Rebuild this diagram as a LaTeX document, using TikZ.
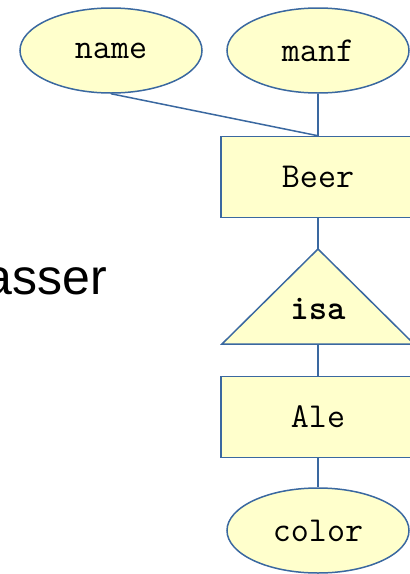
\documentclass[tikz,border=0pt]{standalone}
\usepackage{fontspec}
\setmainfont{Liberation Sans}
\usetikzlibrary{shapes.geometric}
\definecolor{erfill}{HTML}{FFFFCC}
\definecolor{erline}{HTML}{3A68A0}
\tikzset{
  codetext/.style={font=\ttfamily\fontsize{35}{38}\selectfont},
  attr/.style={ellipse, draw=erline, fill=erfill, line width=1.5pt, minimum width=182pt, minimum height=85pt, inner sep=0pt, codetext},
  ent/.style={rectangle, draw=erline, fill=erfill, line width=1.5pt, minimum width=194pt, minimum height=81pt, inner sep=0pt, codetext},
  conn/.style={draw=erline, line width=1.5pt}
}
\begin{document}
\begin{tikzpicture}[x=1pt,y=-1pt]
\useasboundingbox (0,0) rectangle (410,574);
\clip (0,0) rectangle (410,574);
\node[anchor=base east, inner sep=0pt, font=\fontsize{50}{56}\selectfont] (sub) at (107,294) {asser};
\node[attr] (name) at (111,50.5) {name};
\node[attr] (manf) at (318,50.5) {manf};
\node[ent] (beer) at (318,177) {Beer};
\coordinate (isatop) at (318,249);
\coordinate (isabot) at (318,344);
\filldraw[draw=erline, fill=erfill, line width=1.5pt] (isatop) -- (222,344) -- (414,344) -- cycle;
\node[font=\ttfamily\bfseries\fontsize{35}{38}\selectfont] (isa) at (318,309) {isa};
\node[ent] (ale) at (318,417) {Ale};
\node[attr] (color) at (318,530.5) {color};
\draw[conn] (name.south) -- (beer.north);
\draw[conn] (manf.south) -- (beer.north);
\draw[conn] (beer.south) -- (isatop);
\draw[conn] (isabot) -- (ale.north);
\draw[conn] (ale.south) -- (color.north);
\end{tikzpicture}
\end{document}
